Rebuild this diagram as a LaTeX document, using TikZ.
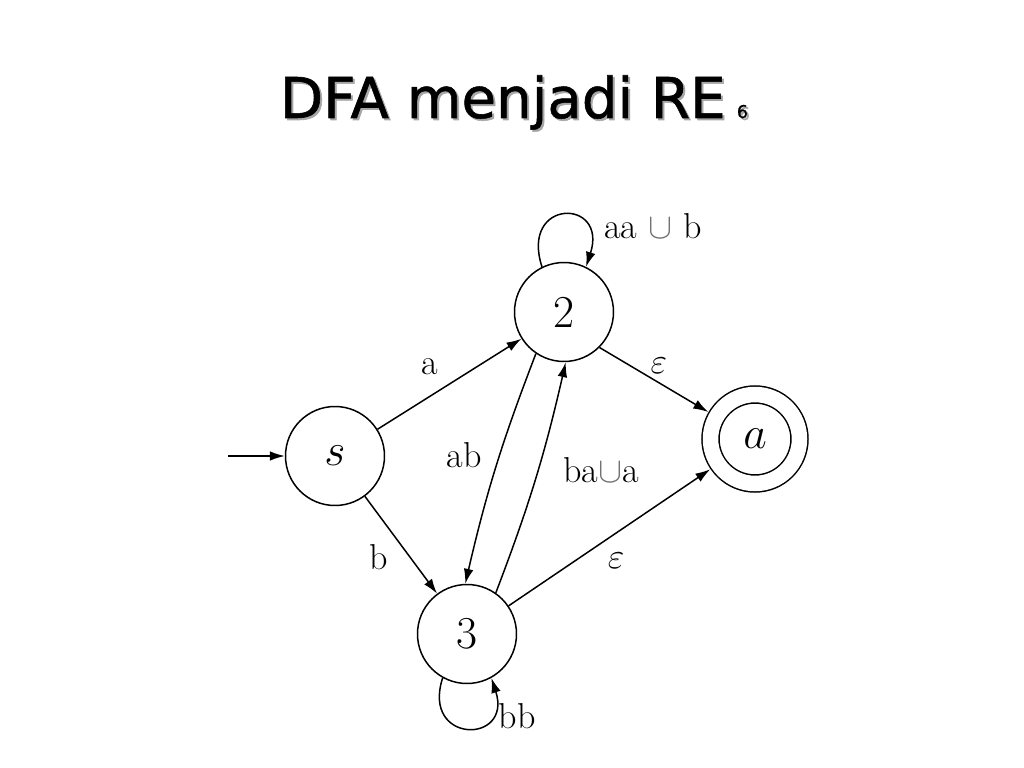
\documentclass[tikz,border=0pt]{standalone}
\usepackage{fix-cm}
\usepackage{fontspec}
\newfontfamily\judulfont[FakeBold=1]{DejaVu Sans}
\usepackage{tikz}
\usetikzlibrary{arrows.meta}
\newcommand{\gabung}{\textcolor{black!55}{$\cup$}}

\tikzset{
  state/.style={circle,draw,line width=0.85pt,minimum size=1.98cm,inner sep=0pt,
    font=\fontsize{26}{30}\selectfont},
  accept/.style={state,double,double distance=0.31cm,minimum size=1.78cm,outer sep=0.19cm},
  lbl/.style={inner sep=1pt,font=\fontsize{20.5}{24}\selectfont},
  judul/.style={anchor=base,font=\judulfont\fontsize{32}{38}\selectfont}
}

\begin{document}
\begin{tikzpicture}[>={Latex[length=8.5pt,width=5.5pt]},line width=0.85pt]
    \useasboundingbox[fill=white] (0,0) rectangle (20.48,-15.36);

    % judul dengan bayangan
    \node [judul,text=black!35] (bayang) at (10.32,-2.40) {DFA menjadi RE\hspace{0.2em}{\fontsize{10}{12}\selectfont 6}};
    \node [judul] (judul) at (10.28,-2.36) {DFA menjadi RE\hspace{0.2em}{\fontsize{10}{12}\selectfont 6}};

    % state
    \node [state] (s) at (6.70,-9.12) {$s$};
    \node [state] (2) at (11.28,-6.24) {2};
    \node [state] (3) at (9.34,-12.68) {3};
    \node [accept] (a) at (15.10,-8.78) {$a$};
    \coordinate (mulai) at (4.56,-9.12);

    % transisi
    \draw [->] (mulai) -- (s);
    \draw [->] (s) -- (2);
    \draw [->] (s) -- (3);
    \draw [->] (2.-124) to[bend right=4] (3.92);
    \draw [->] (3.55) to[bend right=4] (2.-88);
    \draw [->] (2.-45) -- (a.150);
    \draw [->] (3) -- (a);
    \draw [->] (2.116) .. controls +(108:1.45) and +(72:1.45) .. (2.64);
    \draw [->] (3.-119) .. controls +(-108:1.4) and +(-72:1.4) .. (3.-61);

    % label
    \node [lbl] (la) at (8.60,-7.34) {a};
    \node [lbl] (lb) at (7.58,-11.14) {b};
    \node [lbl] (lab) at (9.28,-9.10) {ab};
    \node [lbl] (lbaa) at (12.02,-9.40) {ba\gabung a};
    \node [lbl] (le1) at (13.18,-7.32) {$\varepsilon$};
    \node [lbl] (le2) at (12.32,-11.22) {$\varepsilon$};
    \node [lbl] (laab) at (13.06,-4.52) {aa \gabung{} b};
    \node [lbl] (lbb) at (10.34,-14.32) {bb};

\end{tikzpicture}
\end{document}
